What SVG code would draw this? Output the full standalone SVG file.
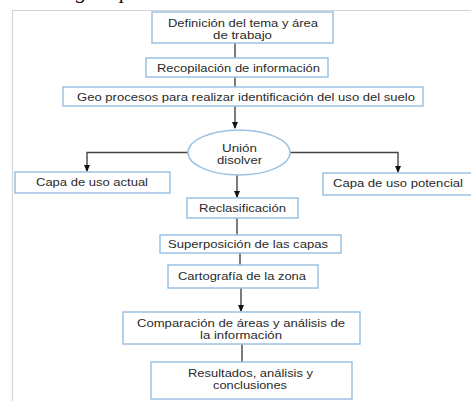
<svg xmlns="http://www.w3.org/2000/svg" width="471" height="401" viewBox="0 0 471 401">
<defs>
<style>
.box{fill:#fff;stroke:#9cc2e5;stroke-width:1.5}
.t{font-family:"Liberation Sans",Arial,sans-serif;font-size:11.6px;fill:#2a2a2a;text-anchor:middle}
.c{fill:none;stroke:#444;stroke-width:1.4}
.frame{fill:none;stroke:#d4d4d4;stroke-width:1.2}
.cap{font-family:"Liberation Serif","Times New Roman",serif;font-style:italic;font-size:22px;fill:#111}
</style>
<marker id="ah" markerWidth="7" markerHeight="6" refX="6" refY="3" orient="auto" markerUnits="userSpaceOnUse">
<path d="M0,0 L7,3 L0,6 Z" fill="#111"/>
</marker>
</defs>
<rect width="471" height="401" fill="#fff"/>
<text class="cap" x="76" y="-2">g</text>
<text class="cap" x="120" y="-2">p</text>
<path class="frame" d="M12.5,401 V10.5 H471"/>
<g id="connectors">
<path class="c" d="M235,43 V58"/>
<path class="c" d="M235,77 V87"/>
<path class="c" d="M235,106 V128" marker-end="url(#ah)"/>
<path class="c" d="M188,152.5 H87 V171" marker-end="url(#ah)"/>
<path class="c" d="M290,152.5 H398 V172" marker-end="url(#ah)"/>
<path class="c" d="M237,175 V197" marker-end="url(#ah)"/>
<path class="c" d="M237,218 V235"/>
<path class="c" d="M240,253 V265"/>
<path class="c" d="M241,288 V311" marker-end="url(#ah)"/>
<path class="c" d="M242,344 V362"/>
</g>
<g id="n1"><rect class="box" x="152" y="12" width="181" height="31"/><text class="t" x="243" y="27" textLength="150" lengthAdjust="spacingAndGlyphs">Definición del tema y área</text><text class="t" x="242.5" y="39" textLength="59" lengthAdjust="spacingAndGlyphs">de trabajo</text></g>
<g id="n2"><rect class="box" x="146" y="58" width="182" height="19"/><text class="t" x="238.5" y="72" textLength="163" lengthAdjust="spacingAndGlyphs">Recopilación de información</text></g>
<g id="n3"><rect class="box" x="63" y="87" width="360" height="19"/><text class="t" x="246" y="101" textLength="338" lengthAdjust="spacingAndGlyphs">Geo procesos para realizar identificación del uso del suelo</text></g>
<g id="n4"><ellipse class="box" cx="239" cy="152.5" rx="51" ry="22.5"/><text class="t" x="239.5" y="152" textLength="35" lengthAdjust="spacingAndGlyphs">Unión</text><text class="t" x="239.5" y="164" textLength="45" lengthAdjust="spacingAndGlyphs">disolver</text></g>
<g id="n5"><rect class="box" x="15" y="172" width="155" height="21"/><text class="t" x="92" y="186" textLength="112" lengthAdjust="spacingAndGlyphs">Capa de uso actual</text></g>
<g id="n6"><rect class="box" x="323" y="173" width="150" height="22"/><text class="t" x="398" y="187" textLength="130" lengthAdjust="spacingAndGlyphs">Capa de uso potencial</text></g>
<g id="n7"><rect class="box" x="187" y="198" width="111" height="20"/><text class="t" x="242.5" y="212" textLength="87" lengthAdjust="spacingAndGlyphs">Reclasificación</text></g>
<g id="n8"><rect class="box" x="160" y="235" width="181" height="18"/><text class="t" x="248" y="248" textLength="160" lengthAdjust="spacingAndGlyphs">Superposición de las capas</text></g>
<g id="n9"><rect class="box" x="168" y="265" width="150" height="23"/><text class="t" x="242" y="280" textLength="128" lengthAdjust="spacingAndGlyphs">Cartografía de la zona</text></g>
<g id="n10"><rect class="box" x="123" y="312" width="237" height="32"/><text class="t" x="241" y="327" textLength="208" lengthAdjust="spacingAndGlyphs">Comparación de áreas y análisis de</text><text class="t" x="241" y="339" textLength="82" lengthAdjust="spacingAndGlyphs">la información</text></g>
<g id="n11"><rect class="box" x="151" y="362" width="201" height="37"/><text class="t" x="250.5" y="377" textLength="125" lengthAdjust="spacingAndGlyphs">Resultados, análisis y</text><text class="t" x="250" y="389" textLength="74" lengthAdjust="spacingAndGlyphs">conclusiones</text></g>
</svg>
